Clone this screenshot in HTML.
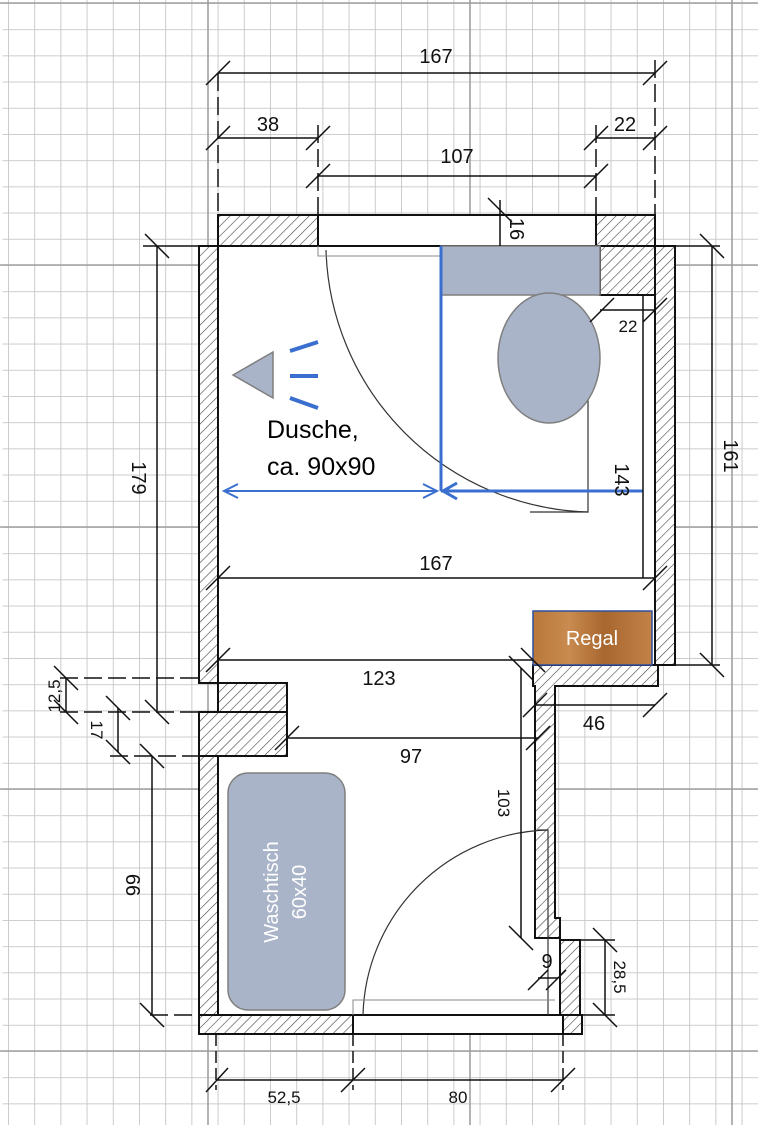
<!DOCTYPE html>
<html><head><meta charset="utf-8"><style>
html,body{margin:0;padding:0;background:#fff;}
svg{display:block;font-family:"Liberation Sans",sans-serif;}
</style></head><body>
<svg width="758" height="1125" viewBox="0 0 758 1125" xmlns="http://www.w3.org/2000/svg">
<defs>
<pattern id="grid" x="0" y="3" width="26.2" height="26.2" patternUnits="userSpaceOnUse">
<path d="M0 0H26.2M0 0V26.2" stroke="#c6c6c6" stroke-width="1.8" fill="none"/>
</pattern>
<pattern id="hatch" width="7" height="7" patternUnits="userSpaceOnUse" patternTransform="rotate(45)">
<rect width="7" height="7" fill="#fff"/>
<line x1="0" y1="0" x2="0" y2="7" stroke="#444" stroke-width="1.2"/>
</pattern>
<linearGradient id="wood" x1="0" x2="1">
<stop offset="0" stop-color="#b9773a"/><stop offset="0.3" stop-color="#c98b4f"/><stop offset="0.6" stop-color="#a8672f"/><stop offset="1" stop-color="#c28248"/>
</linearGradient>
</defs>
<rect width="758" height="1125" fill="#fff"/>
<rect x="-5.6" y="0" width="770" height="1125" fill="url(#grid)" transform="translate(8,0)"/>
<g stroke="#a0a0a0" stroke-width="1.6">
<line x1="208" y1="0" x2="208" y2="1125"/><line x1="470" y1="0" x2="470" y2="1125"/><line x1="732" y1="0" x2="732" y2="1125"/>
<line x1="0" y1="3" x2="758" y2="3"/><line x1="0" y1="265" x2="758" y2="265"/><line x1="0" y1="527" x2="758" y2="527"/><line x1="0" y1="789" x2="758" y2="789"/><line x1="0" y1="1051" x2="758" y2="1051"/>
</g>
<path d="M218 246H655V665H533V686H535V938H560V1015H218V756H287V683H218Z" fill="#fff"/>
<g stroke="#111" stroke-width="2" fill="url(#hatch)">
<rect x="218" y="215" width="100" height="31"/>
<rect x="596" y="215" width="59" height="31"/>
<rect x="199" y="246" width="19" height="437"/>
<rect x="218" y="683" width="69" height="29"/>
<rect x="199" y="712" width="88" height="44"/>
<rect x="199" y="756" width="19" height="259"/>
<rect x="199" y="1015" width="154" height="19"/>
<rect x="600" y="246" width="55" height="49"/>
<rect x="655" y="246" width="20" height="419"/>
<path d="M533 665H658V686H555V918H560V938H535V686H533Z"/>
<rect x="560" y="940" width="20" height="75"/>
<rect x="563" y="1015" width="19" height="19"/>
</g>
<g fill="#fff" stroke="#111" stroke-width="2">
<rect x="318" y="215" width="278" height="31"/>
<rect x="353" y="1015" width="210" height="19"/>
</g>
<path d="M326 250 A270 270 0 0 0 588 512" fill="none" stroke="#333" stroke-width="1.2"/>
<path d="M588 380V512H530" fill="none" stroke="#333" stroke-width="1.2"/>
<path d="M318 246V256H440" fill="none" stroke="#888" stroke-width="1"/>
<path d="M363 1015 A190 190 0 0 1 548 830" fill="none" stroke="#333" stroke-width="1.2"/>
<path d="M538 830H548V1015" fill="none" stroke="#333" stroke-width="1.2"/>
<path d="M353 1015V1000H555" fill="none" stroke="#888" stroke-width="1"/>
<rect x="441" y="246" width="159" height="49" fill="#aab4c8" stroke="#7f7f7f" stroke-width="1.5"/>
<ellipse cx="549" cy="358" rx="51" ry="65" fill="#aab4c8" stroke="#7f7f7f" stroke-width="1.5"/>
<rect x="228" y="773" width="117" height="237" rx="20" fill="#aab4c8" stroke="#7f7f7f" stroke-width="1.5"/>
<text transform="translate(278,892) rotate(-90)" font-size="20" fill="#fff" text-anchor="middle">Waschtisch</text>
<text transform="translate(306,892) rotate(-90)" font-size="20" fill="#fff" text-anchor="middle">60x40</text>
<rect x="533" y="611" width="119" height="54" fill="url(#wood)" stroke="#2f4f9f" stroke-width="1.5"/>
<text x="592" y="645" font-size="20" fill="#fff" text-anchor="middle">Regal</text>
<polygon points="233,375 273,352 273,398" fill="#aab4c8" stroke="#7f7f7f" stroke-width="1.5"/>
<g stroke="#3a6fcf" stroke-width="4">
<line x1="290" y1="351" x2="318" y2="342"/><line x1="290" y1="376" x2="318" y2="376"/><line x1="290" y1="398" x2="318" y2="408"/>
</g>
<g stroke="#3a6fcf" stroke-width="3" fill="none">
<line x1="441" y1="246" x2="441" y2="491"/>
<line x1="441" y1="491" x2="643" y2="491"/>
<path d="M457 483L443 491L457 499"/>
</g>
<g stroke="#3a6fcf" stroke-width="2" fill="none">
<line x1="224" y1="491" x2="437" y2="491"/>
<path d="M238 484L224 491L238 498M423 484L437 491L423 498"/>
</g>
<text x="267" y="438" font-size="25" fill="#000">Dusche,</text>
<text x="267" y="475" font-size="25" fill="#000">ca. 90x90</text>
<g stroke="#111" stroke-width="1.5" fill="none">
<line x1="218" y1="73" x2="655" y2="73"/>
<line x1="218" y1="138" x2="318" y2="138"/>
<line x1="596" y1="138" x2="655" y2="138"/>
<line x1="318" y1="176" x2="596" y2="176"/>
<line x1="500" y1="200" x2="500" y2="246"/>
<line x1="600" y1="310" x2="655" y2="310"/>
<line x1="712" y1="246" x2="712" y2="665"/>
<line x1="157" y1="246" x2="157" y2="712"/>
<line x1="643" y1="295" x2="643" y2="578"/>
<line x1="218" y1="578" x2="655" y2="578"/>
<line x1="218" y1="660" x2="533" y2="660"/>
<line x1="535" y1="705" x2="655" y2="705"/>
<line x1="287" y1="738" x2="538" y2="738"/>
<line x1="521" y1="668" x2="521" y2="938"/>
<line x1="538" y1="978" x2="558" y2="978"/>
<line x1="605" y1="940" x2="605" y2="1015"/>
<line x1="66" y1="678" x2="66" y2="712"/>
<line x1="118" y1="708" x2="118" y2="752"/>
<line x1="152" y1="756" x2="152" y2="1015"/>
<line x1="216" y1="1080" x2="563" y2="1080"/>
<line x1="218" y1="73" x2="218" y2="215" stroke-dasharray="18,6"/>
<line x1="655" y1="60" x2="655" y2="215" stroke-dasharray="18,6"/>
<line x1="318" y1="125" x2="318" y2="215" stroke-dasharray="18,6"/>
<line x1="596" y1="125" x2="596" y2="215" stroke-dasharray="18,6"/>
<line x1="60" y1="678" x2="199" y2="678" stroke-dasharray="18,6"/>
<line x1="60" y1="712" x2="199" y2="712" stroke-dasharray="18,6"/>
<line x1="110" y1="756" x2="199" y2="756" stroke-dasharray="18,6"/>
<line x1="150" y1="1015" x2="199" y2="1015" stroke-dasharray="18,6"/>
<line x1="216" y1="1034" x2="216" y2="1090" stroke-dasharray="12,5"/>
<line x1="353" y1="1034" x2="353" y2="1090" stroke-dasharray="12,5"/>
<line x1="563" y1="1034" x2="563" y2="1090" stroke-dasharray="12,5"/>
<line x1="675" y1="246" x2="720" y2="246"/>
<line x1="658" y1="665" x2="720" y2="665"/>
<line x1="580" y1="940" x2="615" y2="940"/>
<line x1="580" y1="1015" x2="615" y2="1015"/>
<line x1="143" y1="246" x2="199" y2="246"/>
</g>
<g stroke="#111" stroke-width="1.5">
<path d="M206 85L230 61M643 85L667 61M206 150L230 126M306 150L330 126M584 150L608 126M643 150L667 126M306 188L330 164M584 188L608 164M488 198L512 222M700 234L724 258M700 653L724 677M145 234L169 258M145 700L169 724M140 744L164 768M140 1003L164 1027M54 666L78 690M54 700L78 724M106 696L130 720M106 740L130 764M206 1092L228 1068M341 1092L365 1068M551 1092L575 1068M206 590L230 566M643 590L667 566M206 672L230 648M521 648L545 672M523 717L547 693M643 717L667 693M275 750L299 726M526 750L550 726M509 926L533 950M509 656L533 680M593 928L617 952M593 1003L617 1027M528 990L548 970M546 990L566 970M590 322L614 298M643 322L667 298"/>
</g>
<g font-size="20" fill="#111" text-anchor="middle">
<text x="436" y="63">167</text>
<text x="268" y="131">38</text>
<text x="625" y="131">22</text>
<text x="457" y="163">107</text>
<text x="628" y="332" font-size="17">22</text>
<text x="436" y="570">167</text>
<text x="379" y="685">123</text>
<text x="594" y="730">46</text>
<text x="411" y="763">97</text>
<text x="547" y="968">9</text>
<text x="284" y="1103" font-size="17">52,5</text>
<text x="458" y="1103" font-size="17">80</text>
<text transform="translate(510,229) rotate(90)">16</text>
<text transform="translate(724,456) rotate(90)">161</text>
<text transform="translate(132,478) rotate(90)">179</text>
<text transform="translate(615,480) rotate(90)">143</text>
<text transform="translate(498,803) rotate(90)" font-size="17">103</text>
<text transform="translate(614,977) rotate(90)" font-size="17">28,5</text>
<text transform="translate(60,696) rotate(-90)" font-size="17">12,5</text>
<text transform="translate(91,730) rotate(90)" font-size="17">17</text>
<text transform="translate(126,885) rotate(90)">66</text>
</g>
</svg>
</body></html>
